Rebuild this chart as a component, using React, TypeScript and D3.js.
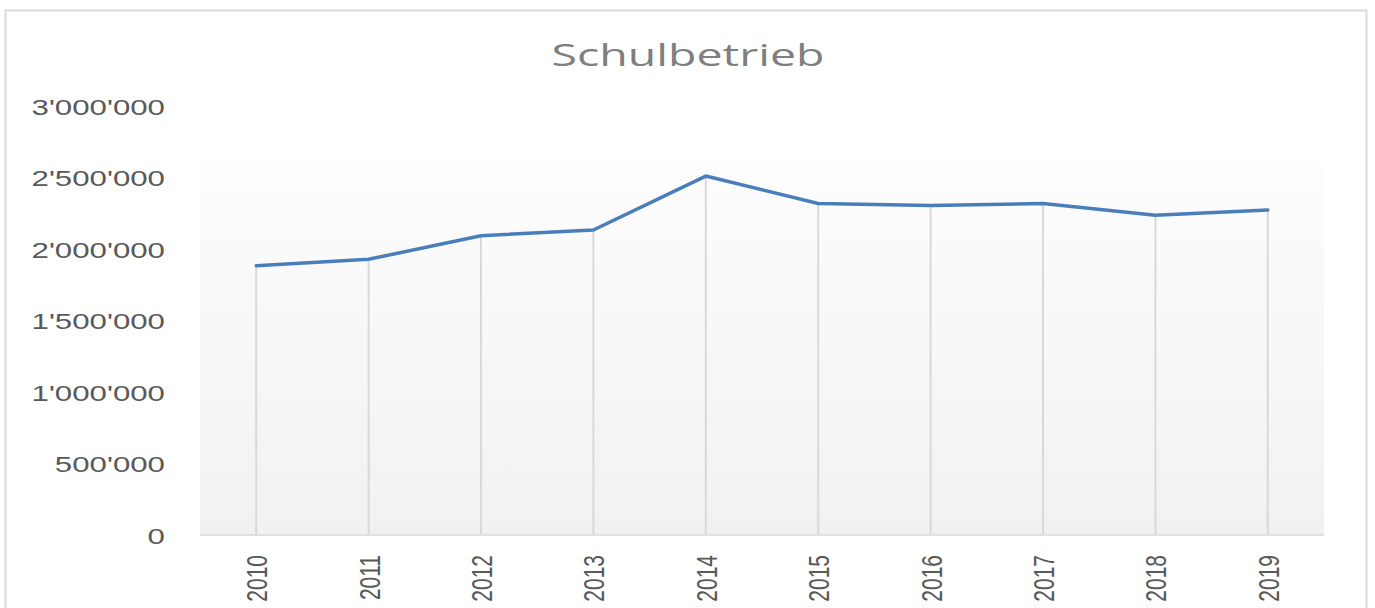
import React from "react";
import * as d3 from "d3";

const years = ["2010", "2011", "2012", "2013", "2014", "2015", "2016", "2017", "2018", "2019"];
const values = [1883000, 1928000, 2093000, 2133000, 2510000, 2318000, 2304000, 2318000, 2236000, 2273000];
const yTicks = [0, 500000, 1000000, 1500000, 2000000, 2500000, 3000000];
const title = "Schulbetrieb";

const W = 1375;
const H = 608;
const plot = { left: 200, right: 1324, top: 163, bottom: 535 };
const SX = 1.42;

const fmt = (v: number) => d3.format(",")(v).replace(/,/g, "'");

export default function App() {
  const x = d3.scalePoint<string>().domain(years).range([plot.left, plot.right]).padding(0.5);
  const y = d3.scaleLinear().domain([0, 3000000]).range([plot.bottom, 106]);
  const line = d3
    .line<number>()
    .x((_, i) => x(years[i]) as number)
    .y((d) => y(d));

  return (
    <svg
      width={W}
      height={H}
      style={{ position: "absolute", left: 0, top: 0, background: "#fff" }}
      fontFamily="'Liberation Sans', Arial, sans-serif"
    >
      <defs>
        <linearGradient id="bg" x1="0" y1="0" x2="0" y2="1">
          <stop offset="0" stopColor="#fdfdfd" />
          <stop offset="1" stopColor="#f1f1f1" />
        </linearGradient>
      </defs>
      <rect x={5.5} y={10.5} width={1361} height={640} fill="#fff" stroke="#d9d9d9" strokeWidth={2} />
      <g transform={`translate(688,54) scale(1.5,1)`}>
        <text
          textAnchor="middle"
          dominantBaseline="central"
          fontSize={31}
          fill="#7f7f7f"
          fontFamily="'Open Sans', 'Liberation Sans', sans-serif"
        >
          {title}
        </text>
      </g>
      <rect
        x={plot.left}
        y={plot.top}
        width={plot.right - plot.left}
        height={plot.bottom - plot.top}
        fill="url(#bg)"
      />
      {yTicks.map((t) => (
        <g key={t} transform={`translate(165,${y(t) + 1.5}) scale(${SX},1)`}>
          <text textAnchor="end" dominantBaseline="central" fontSize={22} fill="#595959">
            {fmt(t)}
          </text>
        </g>
      ))}
      {years.map((yr, i) => (
        <line
          key={"d" + yr}
          x1={x(yr)}
          x2={x(yr)}
          y1={y(values[i])}
          y2={plot.bottom}
          stroke="#d9d9d9"
          strokeWidth={2}
        />
      ))}
      <line x1={plot.left} x2={plot.right} y1={plot.bottom} y2={plot.bottom} stroke="#d9d9d9" strokeWidth={1.5} />
      <path d={line(values) || ""} fill="none" stroke="#4a7ebb" strokeWidth={3.5} strokeLinejoin="round" strokeLinecap="round" />
      {years.map((yr) => (
        <g key={"l" + yr} transform={`translate(${(x(yr) as number) + 0.5},555) scale(${SX},1) rotate(-90)`}>
          <text textAnchor="end" dominantBaseline="central" fontSize={21} fill="#595959">
            {yr}
          </text>
        </g>
      ))}
    </svg>
  );
}
